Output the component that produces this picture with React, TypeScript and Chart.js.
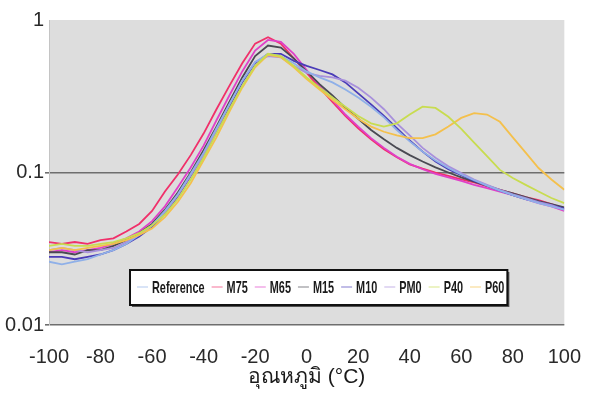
import React, { useEffect, useRef } from "react";
import { Chart, registerables } from "chart.js";

Chart.register(...registerables);

const temperatures = [
  -100, -95, -90, -85, -80, -75, -70, -65, -60, -55,
  -50, -45, -40, -35, -30, -25, -20, -15, -10, -5,
  0, 5, 10, 15, 20, 25, 30, 35, 40, 45,
  50, 55, 60, 65, 70, 75, 80, 85, 90, 95,
  100,
];

const reference = [
  0.026, 0.025, 0.026, 0.027, 0.029, 0.031, 0.034, 0.039, 0.045, 0.056,
  0.072, 0.098, 0.135, 0.195, 0.28, 0.40, 0.53, 0.60, 0.58, 0.52,
  0.46, 0.42, 0.39, 0.35, 0.31, 0.27, 0.23, 0.19, 0.16, 0.137,
  0.120, 0.107, 0.097, 0.089, 0.082, 0.076, 0.071, 0.067, 0.063, 0.060,
  0.057,
];
const m75 = [
  0.035, 0.034, 0.035, 0.034, 0.036, 0.037, 0.041, 0.046, 0.056, 0.075,
  0.097, 0.13, 0.18, 0.26, 0.37, 0.52, 0.70, 0.77, 0.70, 0.56,
  0.45, 0.36, 0.29, 0.235, 0.195, 0.165, 0.142, 0.126, 0.113, 0.106,
  0.100, 0.095, 0.090, 0.086, 0.081, 0.077, 0.073, 0.069, 0.066, 0.062,
  0.058,
];
const m65 = [
  0.030, 0.031, 0.030, 0.031, 0.032, 0.034, 0.037, 0.041, 0.048, 0.060,
  0.080, 0.108, 0.15, 0.22, 0.32, 0.46, 0.63, 0.74, 0.72, 0.60,
  0.47, 0.37, 0.30, 0.24, 0.20, 0.168, 0.145, 0.127, 0.114, 0.105,
  0.098, 0.093, 0.088, 0.083, 0.079, 0.075, 0.071, 0.067, 0.063, 0.060,
  0.056,
];
const m15 = [
  0.030, 0.030, 0.029, 0.031, 0.031, 0.033, 0.036, 0.040, 0.046, 0.057,
  0.074, 0.100, 0.14, 0.20, 0.29, 0.42, 0.58, 0.68, 0.66, 0.56,
  0.46, 0.38, 0.32, 0.265, 0.225, 0.19, 0.165, 0.145, 0.130, 0.118,
  0.108, 0.100, 0.093, 0.087, 0.082, 0.077, 0.073, 0.069, 0.065, 0.062,
  0.059,
];
const m10 = [
  0.028, 0.028, 0.027, 0.028, 0.029, 0.031, 0.034, 0.038, 0.044, 0.054,
  0.070, 0.095, 0.13, 0.19, 0.27, 0.39, 0.52, 0.60, 0.60, 0.54,
  0.50, 0.47, 0.44, 0.39, 0.33, 0.28, 0.235, 0.195, 0.162, 0.137,
  0.118, 0.105, 0.096, 0.088, 0.082, 0.076, 0.071, 0.067, 0.064, 0.061,
  0.058,
];
const pm0 = [
  0.031, 0.032, 0.031, 0.030, 0.031, 0.032, 0.035, 0.039, 0.045, 0.055,
  0.071, 0.096, 0.13, 0.19, 0.28, 0.40, 0.53, 0.58, 0.57, 0.50,
  0.45, 0.43, 0.42, 0.40, 0.36, 0.31, 0.26, 0.21, 0.175, 0.145,
  0.125, 0.110, 0.099, 0.090, 0.083, 0.077, 0.072, 0.068, 0.064, 0.061,
  0.057,
];
const p40 = [
  0.033, 0.034, 0.033, 0.033, 0.034, 0.035, 0.037, 0.040, 0.045, 0.053,
  0.067, 0.090, 0.125, 0.18, 0.26, 0.37, 0.50, 0.60, 0.58, 0.50,
  0.42, 0.36, 0.31, 0.27, 0.235, 0.21, 0.20, 0.21, 0.24, 0.27,
  0.265, 0.232, 0.193, 0.157, 0.128, 0.104, 0.092, 0.083, 0.075, 0.068,
  0.063,
];
const p60 = [
  0.031, 0.032, 0.031, 0.032, 0.033, 0.034, 0.036, 0.039, 0.043, 0.051,
  0.064, 0.085, 0.12, 0.17, 0.25, 0.36, 0.49, 0.59, 0.57, 0.49,
  0.41, 0.35, 0.30, 0.26, 0.225, 0.20, 0.185, 0.175, 0.168, 0.168,
  0.178, 0.20, 0.228, 0.245, 0.24, 0.215, 0.17, 0.135, 0.107, 0.090,
  0.077,
];

const seriesNames = ["Reference", "M75", "M65", "M15", "M10", "PM0", "P40", "P60"];
const seriesValues = [reference, m75, m65, m15, m10, pm0, p40, p60];
const seriesColors = [
  "#8fb0e8", "#f0306a", "#e040c8", "#4a4a52", "#4a3cb8", "#a890dc", "#c8dc50", "#f4c04c",
];
const drawOrder = [6, 7, 0, 5, 4, 3, 2, 1];

const yTickValues = [0.01, 0.1, 1];
const xTickStep = 20;
const xAxisTitle = "อุณหภูมิ (°C)";

const plotBackground = {
  id: "plotBackground",
  beforeDraw(chart: any) {
    const { ctx, chartArea } = chart;
    ctx.save();
    ctx.fillStyle = "#dddddd";
    ctx.fillRect(chartArea.left, chartArea.top, chartArea.right - chartArea.left, chartArea.bottom - chartArea.top);
    ctx.restore();
  },
};

const insideLegend = {
  id: "insideLegend",
  afterDraw(chart: any) {
    const { ctx } = chart;
    const boxLeft = 130;
    const boxTop = 270;
    const boxBottom = 305;
    const midY = 287;
    const squeeze = 0.64;
    ctx.save();
    ctx.font = "bold 17px 'Liberation Sans', Arial, sans-serif";
    const items = seriesNames.map((name, i) => ({ name, color: seriesColors[i], w: ctx.measureText(name).width * squeeze }));
    let total = 7;
    items.forEach((it) => { total += 15 + it.w + 7; });
    const boxRight = boxLeft + total - 4;
    // shadow
    ctx.fillStyle = "#555555";
    ctx.fillRect(boxLeft + 2, boxTop + 2, boxRight - boxLeft, boxBottom - boxTop);
    ctx.fillStyle = "#ffffff";
    ctx.fillRect(boxLeft, boxTop, boxRight - boxLeft, boxBottom - boxTop);
    ctx.strokeStyle = "#111111";
    ctx.lineWidth = 2;
    ctx.strokeRect(boxLeft, boxTop, boxRight - boxLeft, boxBottom - boxTop);
    let x = boxLeft + 7;
    items.forEach((it) => {
      ctx.save();
      ctx.globalAlpha = 0.45;
      ctx.strokeStyle = it.color;
      ctx.lineWidth = 1.5;
      ctx.beginPath();
      ctx.moveTo(x, midY);
      ctx.lineTo(x + 11, midY);
      ctx.stroke();
      ctx.restore();
      x += 15;
      ctx.save();
      ctx.translate(x, midY);
      ctx.scale(squeeze, 1);
      ctx.fillStyle = "#1a1a1a";
      ctx.textBaseline = "middle";
      ctx.textAlign = "left";
      ctx.fillText(it.name, 0, 1);
      ctx.restore();
      x += it.w + 7;
    });
    ctx.restore();
  },
};

export default function App() {
  const canvasRef = useRef<HTMLCanvasElement | null>(null);

  useEffect(() => {
    if (!canvasRef.current) return;
    const datasets = drawOrder.map((i) => ({
      label: seriesNames[i],
      data: temperatures.map((t, k) => ({ x: t, y: seriesValues[i][k] })),
      borderColor: seriesColors[i],
      backgroundColor: seriesColors[i],
      borderWidth: 1.8,
      pointRadius: 0,
      tension: 0,
      fill: false,
    }));
    const chart = new Chart(canvasRef.current, {
      type: "line",
      data: { datasets },
      plugins: [plotBackground, insideLegend],
      options: {
        animation: false,
        responsive: false,
        devicePixelRatio: 1,
        layout: { padding: { top: 20, right: 24, bottom: 0, left: 0 } },
        plugins: { legend: { display: false }, tooltip: { enabled: false } },
        scales: {
          x: {
            type: "linear",
            min: -100,
            max: 100,
            afterFit: (s: any) => { s.height = 71; },
            ticks: {
              stepSize: xTickStep,
              color: "#2a2a2a",
              font: { size: 20, family: "'Liberation Sans', Arial, sans-serif" },
              padding: 12,
              maxRotation: 0,
            },
            grid: { display: false },
            border: { display: false },
            title: {
              display: true,
              text: xAxisTitle,
              color: "#1a1a1a",
              font: { size: 21, family: "'Liberation Sans', 'Noto Sans', sans-serif" },
              padding: { top: 0, bottom: 6 },
            },
          },
          y: {
            type: "logarithmic",
            min: 0.01,
            max: 1,
            afterFit: (s: any) => { s.width = 49; },
            afterBuildTicks: (s: any) => { s.ticks = yTickValues.map((v) => ({ value: v })); },
            ticks: {
              color: "#2a2a2a",
              font: { size: 20, family: "'Liberation Sans', Arial, sans-serif" },
              padding: 1,
              callback: (v: any) => String(v),
            },
            grid: {
              color: (c: any) => (c.tick && c.tick.value === 1 ? "rgba(0,0,0,0)" : "#6e6e6e"),
              lineWidth: 1.6,
              tickLength: 4,
            },
            border: { display: true, color: "#c4c4c4", width: 1 },
          },
        },
      },
    });
    return () => chart.destroy();
  }, []);

  return (
    <div style={{ position: "fixed", left: 0, top: 0, width: 593, height: 396, background: "#ffffff" }}>
      <canvas ref={canvasRef} width={593} height={396} style={{ width: 593, height: 396, display: "block" }} />
    </div>
  );
}
